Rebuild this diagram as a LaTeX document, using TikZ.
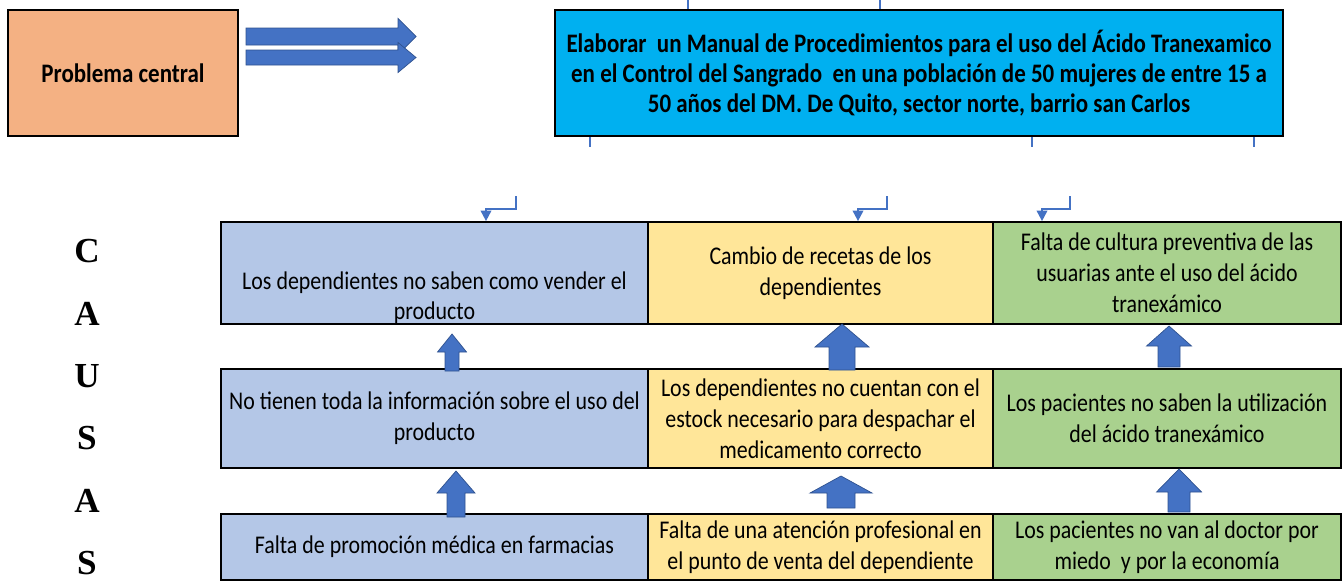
\documentclass[tikz,border=0pt]{standalone}
\usepackage{fontspec}
\setmainfont{Carlito}[FakeStretch=0.86]
\newfontfamily\causafont{Liberation Serif}
\usetikzlibrary{calc,arrows.meta}
\definecolor{salmon}{HTML}{F4B183}
\definecolor{cielo}{HTML}{00B0F0}
\definecolor{celeste}{HTML}{B4C7E7}
\definecolor{crema}{HTML}{FFE699}
\definecolor{verde}{HTML}{A9D18E}
\definecolor{azul}{HTML}{4472C4}
\definecolor{azulosc}{HTML}{2F528F}
\begin{document}
\begin{tikzpicture}
  [x=0.02cm,y=-0.02cm,every node/.style={draw=black,line width=1pt,align=center,inner sep=2pt,font=\fontsize{14.5}{17.6}\selectfont}]
  \tikzstyle{causa} = [draw=none,font=\causafont\bfseries\fontsize{20}{20}\selectfont]
  \tikzstyle{titulo} = [line width=1.4pt,minimum height=2.52cm,font=\bfseries\fontsize{15.2}{17}\selectfont]
  \tikzstyle{fila1} = [minimum height=2.04cm]
  \tikzstyle{fila2} = [minimum height=1.98cm]
  \tikzstyle{fila3} = [minimum height=1.32cm]
  \tikzstyle{bloque} = [fill=azul,draw=azulosc,line width=0.4pt]
  \tikzstyle{gancho} = [draw=azul,line width=1.1pt,-{Triangle[length=6pt,width=6pt]}]
  \useasboundingbox (0,0) rectangle (1344,582);
  % encabezado
  \node[titulo,fill=salmon,minimum width=4.6cm] (prob) at (123,73) {Problema central};
  \node[titulo,fill=cielo,minimum width=14.56cm] (meta) at (919,73)
    {Elaborar\ \ un Manual de Procedimientos para el uso del Ácido Tranexamico\\
     en el Control del Sangrado\ \ en una población de 50 mujeres de entre 15 a\\
     50 años del DM. De Quito, sector norte, barrio san Carlos};
  \foreach \y/\s/\h in {36.5/8.5/18,57.5/7.5/15}
    \fill[bloque] (246,{\y-\s}) -- (398,{\y-\s}) -- (398,{\y-\h}) -- (416,\y)
      -- (398,{\y+\h}) -- (398,{\y+\s}) -- (246,{\y+\s}) -- cycle;
  \foreach \dx in {-231,-39}
    \draw[azul,line width=0.6pt] ($(meta.north)+(\dx,0)$) -- ++(0,-10);
  \foreach \dx in {-329,113,335}
    \draw[azul,line width=0.6pt] ($(meta.south)+(\dx,0)$) -- ++(0,10);
  % causas
  \node[fila1,fill=celeste,minimum width=8.54cm] (c11) at (434.5,273)
    {\raisebox{-18pt}[0pt][0pt]{\begin{tabular}{@{}c@{}}Los dependientes no saben como vender el\\producto\end{tabular}}};
  \node[fila1,fill=crema,minimum width=6.9cm] (c12) at (820.5,273)
    {Cambio de recetas de los\\dependientes};
  \node[fila1,fill=verde,minimum width=6.96cm] (c13) at (1167,273)
    {Falta de cultura preventiva de las\\usuarias ante el uso del ácido\\tranexámico};
  \node[fila2,fill=celeste,minimum width=8.54cm] (c21) at (434.5,418.5)
    {No tienen toda la información sobre el uso del\\producto};
  \node[fila2,fill=crema,minimum width=6.9cm] (c22) at (820.5,418.5)
    {Los dependientes no cuentan con el\\estock necesario para despachar el\\medicamento correcto};
  \node[fila2,fill=verde,minimum width=6.96cm] (c23) at (1167,418.5)
    {Los pacientes no saben la utilización\\del ácido tranexámico};
  \node[fila3,fill=celeste,minimum width=8.54cm] (c31) at (434.5,547)
    {Falta de promoción médica en farmacias};
  \node[fila3,fill=crema,minimum width=6.9cm] (c32) at (820.5,547)
    {Falta de una atención profesional en\\el punto de venta del dependiente};
  \node[fila3,fill=verde,minimum width=6.96cm] (c33) at (1167,547)
    {Los pacientes no van al doctor por\\miedo\ \ y por la economía};
  \foreach \ch [count=\i] in {C,A,U,S,A,S}
    \node[causa] (l\i) at (87,{251+62.5*(\i-1)}) {\ch};
  % flechas de bloque
  \foreach \x/\b/\t/\s/\h/\l in {452/371/334/7/14.5/18,842/370/324/13/27/23,1169/367/326/11/22.5/20,
                                  456/517/471/9/19/22,841/508/476/14/31/17,1179/512/469/11/22.5/23}
    \fill[bloque] ({\x-\s},\b) -- ({\x-\s},{\t+\l}) -- ({\x-\h},{\t+\l}) -- (\x,\t)
      -- ({\x+\h},{\t+\l}) -- ({\x+\s},{\t+\l}) -- ({\x+\s},\b) -- cycle;
  % ganchos
  \coordinate (g1) at (516,196);
  \coordinate (g2) at (887,196);
  \coordinate (g3) at (1070,196);
  \foreach \source /\dest /\dx in {g1/c11/51.5,g2/c12/37.5,g3/c13/-125}
    \draw[gancho] (\source) -- ++(0,13) -| ($(\dest.north)+(\dx,0)$);
\end{tikzpicture}
\end{document}
